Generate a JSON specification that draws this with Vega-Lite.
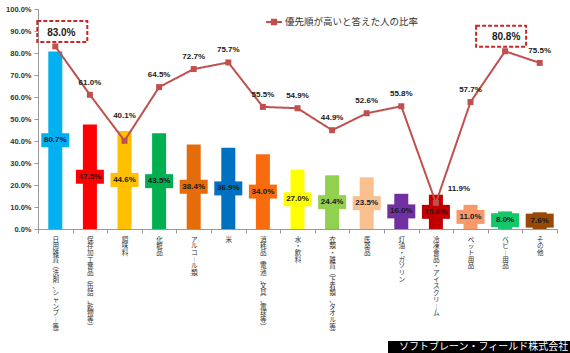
{
  "$schema": "https://vega.github.io/schema/vega-lite/v6.json",
  "width": 519,
  "height": 220,
  "autosize": {"type": "none"},
  "padding": {"left": 38, "top": 9, "right": 13, "bottom": 124},
  "background": "white",
  "config": {"view": {"stroke": null}, "font": "Liberation Sans"},
  "data": {"values": [
    {"cat": "日用雑貨(洗剤、シャンプー等)", "bar": 0.807, "rate": 0.830},
    {"cat": "保存加工食品(缶詰、乾物等)", "bar": 0.475, "rate": 0.610},
    {"cat": "調味料", "bar": 0.446, "rate": 0.401},
    {"cat": "化粧品", "bar": 0.435, "rate": 0.645},
    {"cat": "アルコール類", "bar": 0.384, "rate": 0.727},
    {"cat": "米", "bar": 0.369, "rate": 0.757},
    {"cat": "消耗品(電池、文具、電球等)", "bar": 0.340, "rate": 0.555},
    {"cat": "水・飲料", "bar": 0.270, "rate": 0.549},
    {"cat": "衣類・雑貨(下着類、タオル等)", "bar": 0.244, "rate": 0.449},
    {"cat": "医薬品", "bar": 0.235, "rate": 0.526},
    {"cat": "灯油・ガソリン", "bar": 0.160, "rate": 0.558},
    {"cat": "冷凍食品・アイスクリーム", "bar": 0.156, "rate": 0.119},
    {"cat": "ペット用品", "bar": 0.110, "rate": 0.577},
    {"cat": "ベビー用品", "bar": 0.080, "rate": 0.808},
    {"cat": "その他", "bar": 0.076, "rate": 0.755}
  ]},
  "encoding": {
    "x": {
      "field": "cat", "type": "nominal", "sort": null,
      "scale": {"paddingInner": 0, "paddingOuter": 0},
      "axis": {
        "title": null, "labelAngle": 0, "labelAlign": "center", "labelBaseline": "top",
        "labelExpr": "isValid(datum.value) ? split(replace(replace(replace(datum.value, regexp('[(（]','g'), '︵'), regexp('[)）]','g'), '︶'), regexp('ー','g'), '︱'), '') : ''",
        "labelFont": "Noto Sans CJK JP", "labelFontSize": 6.6, "labelLineHeight": 6.7,
        "labelPadding": 3, "labelColor": "#333", "labelOverlap": false, "labelBound": false, "labelLimit": 0,
        "tickBand": "extent", "tickSize": 4, "tickColor": "#999", "domainColor": "#999"
      }
    }
  },
  "layer": [
    {
      "encoding": {
        "color": {
          "field": "cat", "type": "nominal", "legend": null,
          "scale": {
            "domain": ["日用雑貨(洗剤、シャンプー等)", "保存加工食品(缶詰、乾物等)", "調味料", "化粧品", "アルコール類", "米", "消耗品(電池、文具、電球等)", "水・飲料", "衣類・雑貨(下着類、タオル等)", "医薬品", "灯油・ガソリン", "冷凍食品・アイスクリーム", "ペット用品", "ベビー用品", "その他"],
            "range": ["#00B0F0", "#FF0000", "#FFC000", "#00B050", "#E46C0A", "#0070C0", "#F96B0F", "#FFFF00", "#92D050", "#FAC090", "#7030A0", "#C00000", "#F9996A", "#14C76B", "#984807"]
          }
        }
      },
      "layer": [
        {
          "mark": {"type": "bar", "width": 14},
          "encoding": {
            "y": {"field": "bar", "type": "quantitative", "title": null,
              "scale": {"domain": [0, 1]},
              "axis": {"values": [0, 0.1, 0.2, 0.3, 0.4, 0.5, 0.6, 0.7, 0.8, 0.9, 1], "format": ".1%", "grid": false,
                "labelFont": "Liberation Sans", "labelFontWeight": "bold", "labelFontSize": 7.5, "labelColor": "#333",
                "labelPadding": 3, "tickSize": 4, "tickColor": "#999", "domainColor": "#999", "title": null}}
          }
        },
        {
          "transform": [{"calculate": "datum.bar / 2", "as": "mid"}],
          "mark": {"type": "tick", "size": 28, "thickness": 14, "opacity": 1},
          "encoding": {
            "y": {"field": "mid", "type": "quantitative", "title": null, "scale": {"domain": [0, 1]},
              "axis": {"values": [0, 0.1, 0.2, 0.3, 0.4, 0.5, 0.6, 0.7, 0.8, 0.9, 1], "format": ".1%", "grid": false,
                "labelFont": "Liberation Sans", "labelFontWeight": "bold", "labelFontSize": 7.5, "labelColor": "#333",
                "labelPadding": 3, "tickSize": 4, "tickColor": "#999", "domainColor": "#999", "title": null}}
          }
        },
        {
          "transform": [{"calculate": "datum.bar / 2", "as": "mid"}],
          "mark": {"type": "text", "fontSize": 8, "fontWeight": "bold", "color": "#1a1a1a", "baseline": "middle"},
          "encoding": {
            "y": {"field": "mid", "type": "quantitative", "title": null, "scale": {"domain": [0, 1]},
              "axis": {"values": [0, 0.1, 0.2, 0.3, 0.4, 0.5, 0.6, 0.7, 0.8, 0.9, 1], "format": ".1%", "grid": false,
                "labelFont": "Liberation Sans", "labelFontWeight": "bold", "labelFontSize": 7.5, "labelColor": "#333",
                "labelPadding": 3, "tickSize": 4, "tickColor": "#999", "domainColor": "#999", "title": null}},
            "text": {"field": "bar", "type": "quantitative", "format": ".1%"},
            "color": {"value": "#1a1a1a"}
          }
        }
      ]
    },
    {
      "encoding": {
        "y": {"field": "rate", "type": "quantitative", "title": null, "scale": {"domain": [0, 1]},
          "axis": {"values": [0, 0.1, 0.2, 0.3, 0.4, 0.5, 0.6, 0.7, 0.8, 0.9, 1], "format": ".1%", "grid": false,
            "labelFont": "Liberation Sans", "labelFontWeight": "bold", "labelFontSize": 7.5, "labelColor": "#333",
            "labelPadding": 3, "tickSize": 4, "tickColor": "#999", "domainColor": "#999", "title": null}}
      },
      "layer": [
        {
          "mark": {"type": "line", "strokeWidth": 2, "color": "#C0504D"},
          "encoding": {
            "strokeDash": {"datum": "ソフトブレーン・フィールド株式会社", "type": "nominal", "scale": {"range": [[1, 0]]},
              "legend": {"orient": "none", "legendX": 350, "legendY": 332, "title": null, "fillColor": "black", "padding": 1,
                "labelColor": "white", "labelFont": "Noto Sans CJK JP", "labelFontSize": 10, "labelOffset": 0, "labelLimit": 0,
                "symbolSize": 0, "symbolOpacity": 0, "symbolStrokeWidth": 0}}
          }
        },
        {
          "mark": {"type": "point", "shape": "square", "filled": true, "size": 36, "opacity": 1},
          "encoding": {
            "color": {"datum": "優先順が高いと答えた人の比率", "type": "nominal", "scale": {"range": ["#C0504D"]},
              "legend": {"orient": "none", "legendX": 227, "legendY": 4, "title": null, "padding": 0,
                "symbolType": "M-1,-0.125H1V0.125H-1Z M-0.4,-0.4H0.4V0.4H-0.4Z", "symbolSize": 256,
                "symbolFillColor": "#C0504D", "symbolStrokeColor": "transparent",
                "labelFont": "Noto Sans CJK JP", "labelFontSize": 9.5, "labelColor": "#333", "labelOffset": 2, "labelLimit": 0,
                "encode": {"symbols": {"update": {"shape": {"value": "M-1,-0.125H1V0.125H-1Z M-0.4,-0.4H0.4V0.4H-0.4Z"}, "size": {"value": 256}, "stroke": {"value": "transparent"}, "fill": {"value": "#C0504D"}, "opacity": {"value": 1}}}}}}
          }
        },
        {
          "transform": [{"filter": "datum.rate < 0.8 && datum.cat !== '調味料' && datum.cat !== '冷凍食品・アイスクリーム'"}],
          "mark": {"type": "text", "fontSize": 8, "fontWeight": "bold", "color": "#1a1a1a", "baseline": "middle", "dy": -12},
          "encoding": {"text": {"field": "rate", "type": "quantitative", "format": ".1%"}}
        },
        {
          "transform": [{"filter": "datum.cat === '調味料'"}],
          "mark": {"type": "text", "fontSize": 8, "fontWeight": "bold", "color": "#1a1a1a", "baseline": "middle", "dy": -25},
          "encoding": {"text": {"field": "rate", "type": "quantitative", "format": ".1%"}}
        },
        {
          "transform": [{"filter": "datum.cat === '冷凍食品・アイスクリーム'"}],
          "mark": {"type": "text", "fontSize": 8, "fontWeight": "bold", "color": "#1a1a1a", "baseline": "middle", "dx": 23, "dy": -14},
          "encoding": {"text": {"field": "rate", "type": "quantitative", "format": ".1%"}}
        },
        {
          "transform": [{"filter": "datum.cat === '日用雑貨(洗剤、シャンプー等)'"}],
          "mark": {"type": "point", "shape": "M-1,-0.42H1V0.42H-1Z", "size": 2500, "filled": false, "color": "#C62828", "strokeWidth": 2, "strokeDash": [4, 2], "opacity": 1, "xOffset": 7, "yOffset": -15}
        },
        {
          "transform": [{"filter": "datum.cat === '日用雑貨(洗剤、シャンプー等)'"}],
          "mark": {"type": "text", "fontSize": 10, "fontWeight": "bold", "color": "#1a1a1a", "baseline": "middle", "dx": 6, "dy": -13},
          "encoding": {"text": {"field": "rate", "type": "quantitative", "format": ".1%"}}
        },
        {
          "transform": [{"filter": "datum.cat === 'ベビー用品'"}],
          "mark": {"type": "point", "shape": "M-1,-0.42H1V0.42H-1Z", "size": 2500, "filled": false, "color": "#C62828", "strokeWidth": 2, "strokeDash": [4, 2], "opacity": 1, "xOffset": -4, "yOffset": -15}
        },
        {
          "transform": [{"filter": "datum.cat === 'ベビー用品'"}],
          "mark": {"type": "text", "fontSize": 10, "fontWeight": "bold", "color": "#1a1a1a", "baseline": "middle", "dx": 1, "dy": -14},
          "encoding": {"text": {"field": "rate", "type": "quantitative", "format": ".1%"}}
        }
      ]
    }
  ],
  "resolve": {"scale": {"color": "independent"}}
}
